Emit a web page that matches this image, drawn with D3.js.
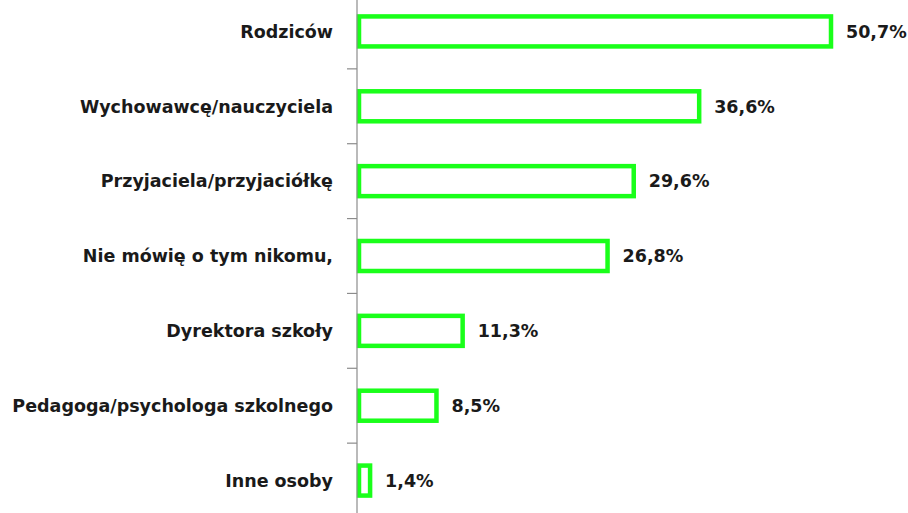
<!DOCTYPE html>
<html>
<head>
<meta charset="utf-8">
<script src="https://cdn.jsdelivr.net/npm/d3@7"></script>
<style>
  body { margin: 0; background: #fff; }
  svg { display: block; }
</style>
</head>
<body>
<div id="chart"></div>
<script>
const categories = ['Rodziców', 'Wychowawcę/nauczyciela', 'Przyjaciela/przyjaciółkę',
    'Nie mówię o tym nikomu,', 'Dyrektora szkoły', 'Pedagoga/psychologa szkolnego', 'Inne osoby']
const values = [50.7, 36.6, 29.6, 26.8, 11.3, 8.5, 1.4]
const valueLabels = ['50,7%', '36,6%', '29,6%', '26,8%', '11,3%', '8,5%', '1,4%']

const width = 908
const height = 513
const x0 = 357

const x = d3.scaleLinear().domain([0, 50.7]).range([x0, 831])
const yOuter = d3.scaleBand().domain(categories).range([-6, 518])

const svg = d3.select('#chart').append('svg')
    .attr('width', width)
    .attr('height', height)

const font = "'DejaVu Sans', Verdana, sans-serif"

// bars
svg.selectAll('rect.bar')
    .data(values)
    .enter().append('rect')
    .attr('class', 'bar')
    .attr('x', x0 + 2)
    .attr('y', (d, i) => yOuter(categories[i]) + yOuter.bandwidth() / 2 - 15)
    .attr('width', (d) => x(d) - x0 - 2)
    .attr('height', 30)
    .attr('fill', 'white')
    .attr('stroke', '#1aff1a')
    .attr('stroke-width', 4.5)

// axis line + ticks
svg.append('line')
    .attr('x1', x0).attr('x2', x0)
    .attr('y1', 0).attr('y2', height)
    .attr('stroke', '#8c8c8c')
    .attr('stroke-width', 1.2)

svg.selectAll('line.tick')
    .data(categories.slice(1))
    .enter().append('line')
    .attr('class', 'tick')
    .attr('x1', x0 - 10).attr('x2', x0)
    .attr('y1', (d) => yOuter(d)).attr('y2', (d) => yOuter(d))
    .attr('stroke', '#8c8c8c')
    .attr('stroke-width', 1.2)

// category labels
svg.selectAll('text.cat')
    .data(categories)
    .enter().append('text')
    .attr('class', 'cat')
    .attr('x', x0 - 24)
    .attr('y', (d) => yOuter(d) + yOuter.bandwidth() / 2)
    .attr('dy', '0.36em')
    .attr('text-anchor', 'end')
    .attr('font-family', font)
    .attr('font-weight', 'bold')
    .attr('font-size', 17.5)
    .attr('fill', '#1a1a1a')
    .text((d) => d)

// value labels
svg.selectAll('text.val')
    .data(values)
    .enter().append('text')
    .attr('class', 'val')
    .attr('x', (d) => x(d) + 15)
    .attr('y', (d, i) => yOuter(categories[i]) + yOuter.bandwidth() / 2)
    .attr('dy', '0.36em')
    .attr('font-family', font)
    .attr('font-weight', 'bold')
    .attr('font-size', 17.5)
    .attr('fill', '#1a1a1a')
    .text((d, i) => valueLabels[i])
</script>
</body>
</html>
